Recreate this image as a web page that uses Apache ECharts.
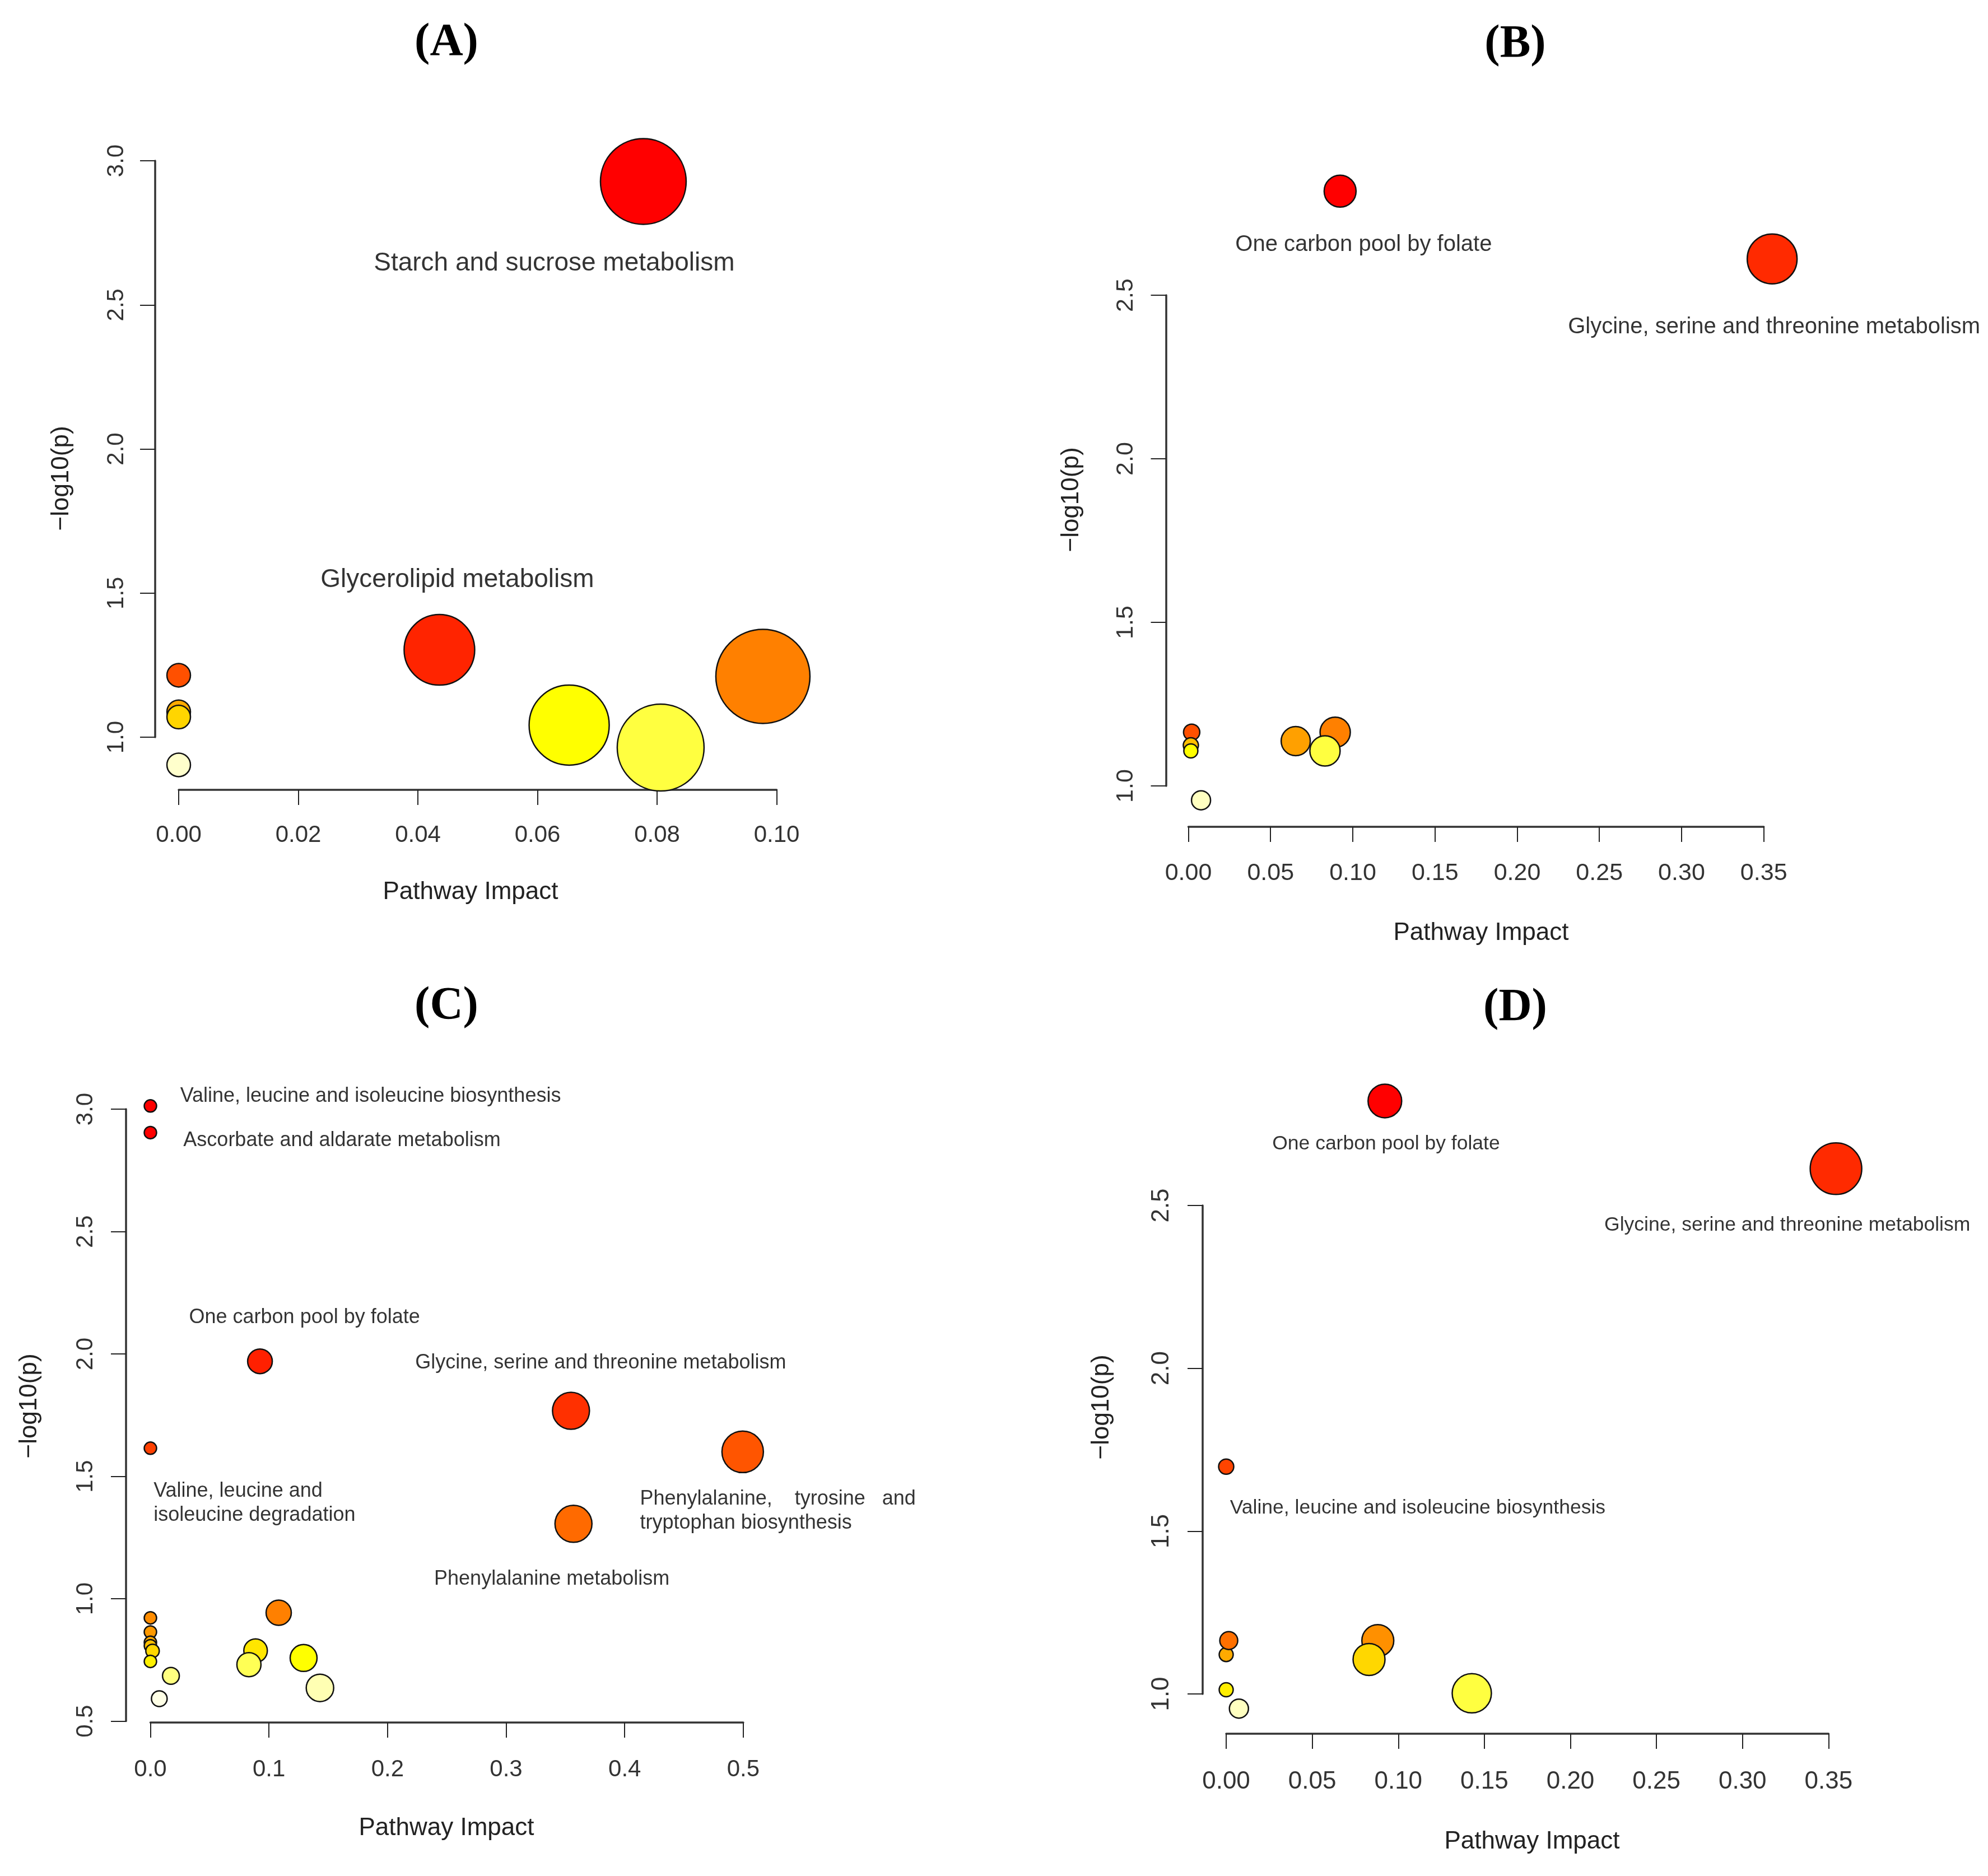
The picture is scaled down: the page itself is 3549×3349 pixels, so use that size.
<!DOCTYPE html>
<html>
<head>
<meta charset="UTF-8">
<script src="https://cdn.jsdelivr.net/npm/echarts@6/dist/echarts.min.js"></script>
<style>
  html, body { margin: 0; padding: 0; background: #ffffff; }
  #chartDiv { width: 3549px; height: 3349px; }
</style>
<title>Pathway analysis</title>
</head>
<body>
<div id="chartDiv"></div>
<script type="text/javascript">
// ---- (A) ----
var aImpact = [0.0777, 0.0436, 0.0977, 0.0653, 0.0806, 0, 0, 0, 0];
var aLogP = [2.928, 1.303, 1.211, 1.042, 0.964, 1.215, 1.088, 1.070, 0.904];
var aXTicks = ['0.00', '0.02', '0.04', '0.06', '0.08', '0.10'];
var aYTicks = ['1.0', '1.5', '2.0', '2.5', '3.0'];
var aNames = ['Starch and sucrose metabolism', 'Glycerolipid metabolism'];
var aNameX = [0.0628, 0.0466];
var aNameY = [2.643, 1.545];

// ---- (B) ----
var bImpact = [0.0923, 0.3551, 0.0020, 0.0015, 0.0015, 0.0077, 0.0653, 0.0893, 0.0831];
var bLogP = [2.818, 2.611, 1.164, 1.124, 1.107, 0.956, 1.137, 1.164, 1.107];
var bXTicks = ['0.00', '0.05', '0.10', '0.15', '0.20', '0.25', '0.30', '0.35'];
var bYTicks = ['1.0', '1.5', '2.0', '2.5'];
var bNames = ['One carbon pool by folate', 'Glycine, serine and threonine metabolism'];
var bNameX = [0.1066, 0.3563];
var bNameY = [2.655, 2.402];

// ---- (C) ----
var cImpact = [0, 0, 0.0924, 0, 0.3547, 0.4995, 0.3568, 0, 0, 0, 0, 0.0018, 0, 0.0173, 0.0075, 0.1082, 0.0887, 0.0831, 0.1292, 0.1430];
var cLogP = [3.013, 2.904, 1.970, 1.615, 1.768, 1.600, 1.306, 0.922, 0.864, 0.822, 0.808, 0.787, 0.744, 0.685, 0.592, 0.943, 0.788, 0.731, 0.758, 0.636];
var cXTicks = ['0.0', '0.1', '0.2', '0.3', '0.4', '0.5'];
var cYTicks = ['0.5', '1.0', '1.5', '2.0', '2.5', '3.0'];
var cNames = ['Valine, leucine and isoleucine biosynthesis', 'Ascorbate and aldarate metabolism',
  'One carbon pool by folate', 'Glycine, serine and threonine metabolism',
  'Valine, leucine and\nisoleucine degradation', 'Phenylalanine,    tyrosine   and\ntryptophan biosynthesis',
  'Phenylalanine metabolism'];
var cNameX = [0.0251, 0.0278, 0.0326, 0.2233, 0.0027, 0.4129, 0.2393];
var cNameY = [3.053, 2.872, 2.148, 1.963, 1.391, 1.358, 1.080];

// ---- (D) ----
var dImpact = [0.0922, 0.3543, 0, 0, 0.0015, 0, 0.0074, 0.0881, 0.0830, 0.1427];
var dLogP = [2.821, 2.613, 1.698, 1.121, 1.164, 1.013, 0.955, 1.164, 1.106, 1.002];
var dXTicks = ['0.00', '0.05', '0.10', '0.15', '0.20', '0.25', '0.30', '0.35'];
var dYTicks = ['1.0', '1.5', '2.0', '2.5'];
var dNames = ['One carbon pool by folate', 'Glycine, serine and threonine metabolism',
  'Valine, leucine and isoleucine biosynthesis'];
var dNameX = [0.0929, 0.326, 0.0022];
var dNameY = [2.689, 2.440, 1.571];

// bubble diameters (px) and fills, same order as the points above
var aDot = [153, 126, 168, 143, 155, 42, 42, 42, 42];
var aFill = ['#FF0000', '#FF2400', '#FF8000', '#FFFF00', '#FFFF40', '#FF5000', '#FFAA00', '#FFD500', '#FFFFCC'];
var bDot = [57, 89, 29, 27, 25, 34, 52, 54, 54];
var bFill = ['#FF0000', '#FF2A00', '#FF5000', '#FFBF00', '#FFFF00', '#FFFFC0', '#FFA000', '#FF8000', '#FFFF40'];
var cDot = [22, 22, 44, 22, 66, 74, 66, 22, 22, 22, 22, 24, 22, 30, 28, 45, 42, 43, 48, 49];
var cFill = ['#FF0000', '#FF0000', '#FF2000', '#FF4000', '#FF3000', '#FF5500', '#FF6A00', '#FF8C00', '#FF9900',
  '#FFAA00', '#FFBF00', '#FFD700', '#FFF000', '#FFFF80', '#FFFFE6', '#FF8000', '#FFE600', '#FFFF55', '#FFFF00', '#FFFFB3'];
var dDot = [60, 92, 27, 25, 32, 25, 34, 57, 57, 70];
var dFill = ['#FF0000', '#FF2A00', '#FF4400', '#FFAA00', '#FF7000', '#FFEE00', '#FFFFC0', '#FF9000', '#FFD700', '#FFFF40'];

var SANS = 'Liberation Sans, Arial, sans-serif';
var SERIF = 'Liberation Serif, Times New Roman, serif';
var AXIS_COLOR = '#333333';

// layout of each panel (plot box = tick range, in px)
var panels = [
  { grid: { left: 319, top: 287, width: 1067.5, height: 1029 }, xOff: 94, yOff: 42, xMargin: 60, yMargin: 48,
    tickFont: 42, nameFont: 46, nameAlign: ['center', 'center'], title: '(A)', titleAt: [797, 77], xTitleAt: [840, 1593], yTitleAt: [110, 854],
    impact: aImpact, logp: aLogP, xt: aXTicks, yt: aYTicks, dot: aDot, fill: aFill, names: aNames, nx: aNameX, ny: aNameY },
  { grid: { left: 2121.5, top: 527, width: 1027.2, height: 876 }, xOff: 73, yOff: 40, xMargin: 62, yMargin: 50,
    tickFont: 43, nameFont: 40, nameAlign: ['center', 'center'], title: '(B)', titleAt: [2705, 80], xTitleAt: [2644, 1666], yTitleAt: [1913, 892],
    impact: bImpact, logp: bLogP, xt: bXTicks, yt: bYTicks, dot: bDot, fill: bFill, names: bNames, nx: bNameX, ny: bNameY },
  { grid: { left: 268.5, top: 1980, width: 1058.4, height: 1092.6 }, xOff: 2.5, yOff: 43.5, xMargin: 63, yMargin: 51,
    tickFont: 42, nameFont: 36, nameAlign: ['left', 'left', 'left', 'left', 'left', 'left', 'left'], title: '(C)', titleAt: [797, 1797], xTitleAt: [797, 3264], yTitleAt: [53, 2510],
    impact: cImpact, logp: cLogP, xt: cXTicks, yt: cYTicks, dot: cDot, fill: cFill, names: cNames, nx: cNameX, ny: cNameY },
  { grid: { left: 2189, top: 2152, width: 1075.4, height: 872 }, xOff: 71, yOff: 42, xMargin: 64, yMargin: 51,
    tickFont: 44, nameFont: 35.5, nameAlign: ['center', 'center', 'left'], title: '(D)', titleAt: [2705, 1800], xTitleAt: [2735, 3288], yTitleAt: [1967, 2512],
    impact: dImpact, logp: dLogP, xt: dXTicks, yt: dYTicks, dot: dDot, fill: dFill, names: dNames, nx: dNameX, ny: dNameY }
];

function axisOpt(p, i, ticks, isX) {
  var lo = parseFloat(ticks[0]), hi = parseFloat(ticks[ticks.length - 1]);
  var step = parseFloat(ticks[1]) - lo;
  var dec = ticks[0].split('.')[1].length;
  return {
    gridIndex: i,
    type: 'value',
    position: isX ? 'bottom' : 'left',
    min: lo,
    max: hi,
    interval: step,
    offset: isX ? p.xOff : p.yOff,
    axisLine: { show: true, onZero: false, lineStyle: { color: AXIS_COLOR, width: 3.5 } },
    axisTick: { show: true, length: 27, lineStyle: { color: '#222', width: 2 } },
    axisLabel: {
      show: true,
      rotate: isX ? 0 : 90,
      margin: isX ? p.xMargin : p.yMargin,
      fontSize: p.tickFont,
      fontFamily: SANS,
      color: '#333',
      showMinLabel: true,
      showMaxLabel: true,
      formatter: function (v) { return v.toFixed(dec); }
    },
    splitLine: { show: false },
    splitArea: { show: false }
  };
}

var grids = [], xAxes = [], yAxes = [], series = [], graphics = [];

panels.forEach(function (p, i) {
  grids.push({ left: p.grid.left, top: p.grid.top, width: p.grid.width, height: p.grid.height, containLabel: false, outerBoundsMode: 'none' });
  xAxes.push(axisOpt(p, i, p.xt, true));
  yAxes.push(axisOpt(p, i, p.yt, false));

  // bubbles
  series.push({
    type: 'scatter',
    xAxisIndex: i,
    yAxisIndex: i,
    clip: false,
    silent: true,
    symbol: 'circle',
    itemStyle: { borderColor: '#111', borderWidth: 2.5, opacity: 1 },
    emphasis: { disabled: true },
    data: p.impact.map(function (x, k) {
      return { value: [x, p.logp[k]], symbolSize: p.dot[k], itemStyle: { color: p.fill[k] } };
    })
  });

  // pathway names
  series.push({
    type: 'scatter',
    xAxisIndex: i,
    yAxisIndex: i,
    clip: false,
    silent: true,
    symbolSize: 0,
    itemStyle: { color: 'rgba(0,0,0,0)', borderWidth: 0 },
    emphasis: { disabled: true },
    label: {
      show: true,
      position: 'inside',
      verticalAlign: 'middle',
      formatter: '{b}',
      fontSize: p.nameFont,
      lineHeight: p.nameFont * 1.2,
      fontFamily: SANS,
      color: '#000'
    },
    data: p.names.map(function (t, k) {
      return { name: t, value: [p.nx[k], p.ny[k]], label: { align: p.nameAlign[k] } };
    })
  });

  graphics.push({
    type: 'text', x: p.titleAt[0], y: p.titleAt[1],
    style: { text: p.title, font: 'bold 82px ' + SERIF, fill: '#000', align: 'center', verticalAlign: 'middle' }
  });
  graphics.push({
    type: 'text', x: p.xTitleAt[0], y: p.xTitleAt[1],
    style: { text: 'Pathway Impact', font: '44px ' + SANS, fill: '#222', align: 'center', verticalAlign: 'middle' }
  });
  graphics.push({
    type: 'text', x: p.yTitleAt[0], y: p.yTitleAt[1], rotation: Math.PI / 2,
    style: { text: '\u2212log10(p)', font: '44px ' + SANS, fill: '#222', align: 'center', verticalAlign: 'middle' }
  });
});

var chart = echarts.init(document.getElementById('chartDiv'), null, { renderer: 'canvas' });
chart.setOption({
  backgroundColor: '#ffffff',
  animation: false,
  grid: grids,
  xAxis: xAxes,
  yAxis: yAxes,
  series: series,
  graphic: graphics
});
</script>
</body>
</html>
